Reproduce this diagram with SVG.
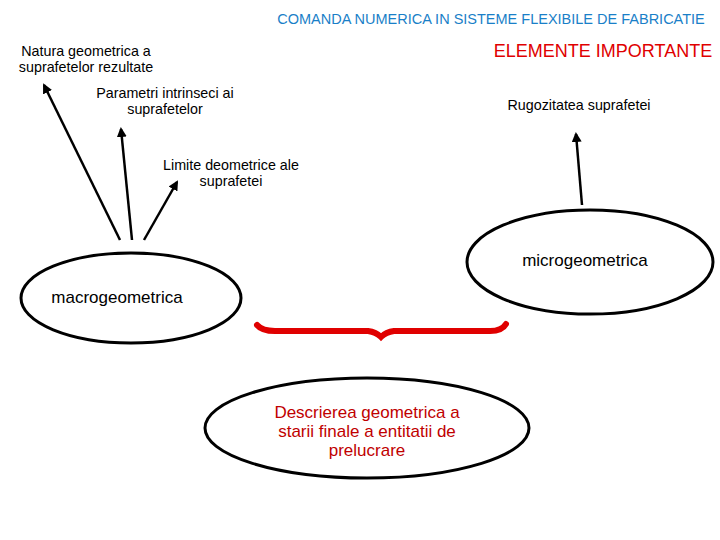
<svg xmlns="http://www.w3.org/2000/svg" width="720" height="540" viewBox="0 0 720 540">
<style>
text{font-family:"Liberation Sans",Arial,sans-serif;font-size:17px;fill:#000}
.b{font-size:14.3px}
.e{fill:none;stroke:#000;stroke-width:3}
.a{stroke:#000;stroke-width:2.5;fill:none;marker-end:url(#ah)}
</style>
<defs><marker id="ah" viewBox="0 0 10 10" refX="8" refY="5" markerWidth="4" markerHeight="4" orient="auto"><path d="M0,0L10,5L0,10z" fill="#000"/></marker></defs>
<rect width="720" height="540" fill="#fff"/>
<text x="491" y="24" text-anchor="middle" style="fill:#1a7fc8;font-size:14.5px">COMANDA NUMERICA IN SISTEME FLEXIBILE DE FABRICATIE</text>
<text x="603" y="57" text-anchor="middle" style="fill:#e00000;font-size:18px">ELEMENTE IMPORTANTE</text>
<g id="n1"><text class="b" x="86" y="56" text-anchor="middle">Natura geometrica a</text><text class="b" x="86" y="72" text-anchor="middle">suprafetelor rezultate</text></g>
<g id="n2"><text class="b" x="165" y="98" text-anchor="middle">Parametri intrinseci ai</text><text class="b" x="165" y="114" text-anchor="middle">suprafetelor</text></g>
<g id="n3"><text class="b" x="231" y="170" text-anchor="middle">Limite deometrice ale</text><text class="b" x="231" y="186" text-anchor="middle">suprafetei</text></g>
<g id="n4"><text class="b" x="579" y="110" text-anchor="middle">Rugozitatea suprafetei</text></g>
<g id="n5"><ellipse class="e" cx="590" cy="262" rx="123" ry="52"/><text x="585" y="266" text-anchor="middle">microgeometrica</text></g>
<g id="n6"><ellipse class="e" cx="131" cy="298" rx="110" ry="45"/><text x="117" y="303" text-anchor="middle">macrogeometrica</text></g>
<g id="n7"><ellipse class="e" cx="367" cy="428" rx="162" ry="50"/><text x="367" y="418" text-anchor="middle" style="fill:#c00000">Descrierea geometrica a</text><text x="367" y="437" text-anchor="middle" style="fill:#c00000">starii finale a entitatii de</text><text x="367" y="456" text-anchor="middle" style="fill:#c00000">prelucrare</text></g>
<g id="connectors">
<line class="a" x1="120" y1="240" x2="44" y2="85"/>
<line class="a" x1="132" y1="240" x2="121" y2="129"/>
<line class="a" x1="144" y1="240" x2="177" y2="182"/>
<line class="a" x1="582" y1="205" x2="576" y2="134"/>
<path d="M257,325 Q262,331 275,331 L368,331 Q376,332 381,337 Q386,332 394,331 L490,331 Q502,331 506,324" fill="none" stroke="#e00000" stroke-width="6" stroke-linecap="round"/>
</g>
</svg>
